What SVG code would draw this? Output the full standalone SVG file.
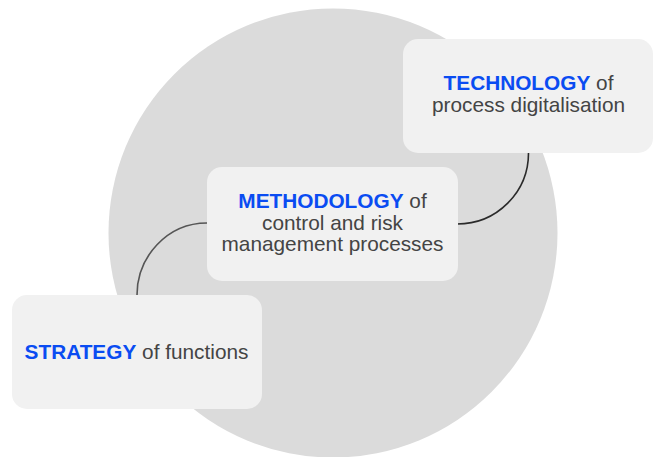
<svg xmlns="http://www.w3.org/2000/svg" width="656" height="457" viewBox="0 0 656 457">
<style>
.box{fill:#f1f1f1}
.t{font-family:"Liberation Sans",Arial,sans-serif;font-size:20.8px;fill:#444;text-anchor:middle}
.b{font-weight:bold;fill:#0a4cf2}
.c{fill:none;stroke-width:1.6}
</style>
<rect width="656" height="457" fill="#ffffff"/>
<circle cx="333" cy="233" r="224.5" fill="#dbdbdb"/>
<g id="connectors">
<path class="c" stroke="#2a2a2a" d="M528.5 153 C528.5 192 497 224 457 224"/>
<path class="c" stroke="#555" d="M207 223 C167 223 137 257 137 295"/>
</g>
<g id="technology">
<rect class="box" x="403" y="39" width="250" height="114" rx="15"/>
<text class="t" x="528.5" y="90.3"><tspan class="b">TECHNOLOGY</tspan> of</text>
<text class="t" x="528.5" y="111.9">process digitalisation</text>
</g>
<g id="methodology">
<rect class="box" x="207" y="167" width="251" height="114" rx="15"/>
<text class="t" x="332.5" y="208.2"><tspan class="b">METHODOLOGY</tspan> of</text>
<text class="t" x="332.5" y="229.8">control and risk</text>
<text class="t" x="332.5" y="251.4">management processes</text>
</g>
<g id="strategy">
<rect class="box" x="12" y="295" width="250" height="114" rx="15"/>
<text class="t" x="136.5" y="359"><tspan class="b">STRATEGY</tspan> of functions</text>
</g>
</svg>
